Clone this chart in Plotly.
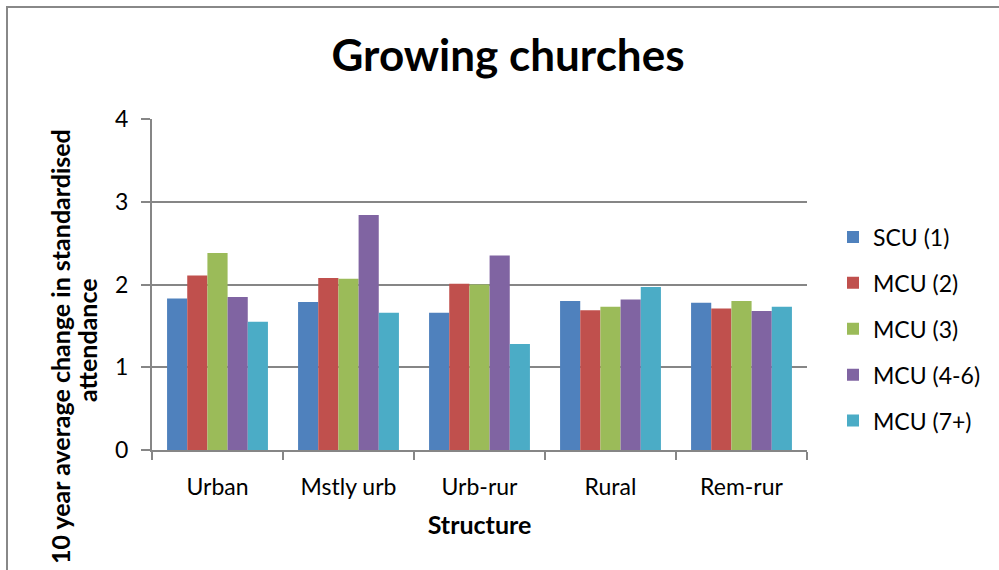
import plotly.graph_objects as go

# Categories (settlement structure) and series (church unit types)
categories = ["Urban", "Mstly urb", "Urb-rur", "Rural", "Rem-rur"]
series_names = ["SCU (1)", "MCU (2)", "MCU (3)", "MCU (4-6)", "MCU (7+)"]

scu_1 = [1.83, 1.79, 1.66, 1.80, 1.78]
mcu_2 = [2.11, 2.08, 2.01, 1.69, 1.71]
mcu_3 = [2.38, 2.07, 2.00, 1.73, 1.80]
mcu_4_6 = [1.85, 2.84, 2.35, 1.82, 1.68]
mcu_7p = [1.55, 1.66, 1.28, 1.97, 1.73]

series_values = [scu_1, mcu_2, mcu_3, mcu_4_6, mcu_7p]
colors = ["#4F81BD", "#C0504D", "#9BBB59", "#8064A2", "#4BACC6"]

FONT = "Lato, 'Open Sans', sans-serif"
GRID = "#868686"

fig = go.Figure()
for name, vals, col in zip(series_names, series_values, colors):
    fig.add_trace(go.Bar(
        x=categories, y=vals, name=name, legendgroup=name,
        marker=dict(color=col, line=dict(width=0)),
    ))

W, H = 999, 570
L, R, T, B = 152, 807, 119, 450
pw, ph = R - L, B - T

def px_x(p):
    return (p - L) / pw

def px_y(p):
    return (B - p) / ph

fig.update_layout(
    width=W, height=H,
    margin=dict(l=L, r=W - R, t=T, b=H - B),
    paper_bgcolor="white", plot_bgcolor="white",
    barmode="group", bargap=0.23, bargroupgap=0,
    font=dict(family=FONT, size=23, color="#000000"),
    title=dict(text="<b>Growing churches</b>", x=px_x(508), xref="paper",
               xanchor="center", y=1 - 56 / H, yanchor="middle",
               font=dict(size=44, family=FONT, color="#000000")),
    legend=dict(x=px_x(833), xanchor="left", y=px_y(329), yanchor="middle",
                font=dict(size=23), tracegroupgap=13, traceorder="grouped",
                bgcolor="rgba(0,0,0,0)"),
    xaxis=dict(
        showline=True, linecolor=GRID, linewidth=2,
        ticks="outside", ticklen=8, tickwidth=2, tickcolor=GRID,
        tickson="boundaries", ticklabelstandoff=15,
        title=dict(text="<b>Structure</b>", standoff=18, font=dict(size=25)),
        tickfont=dict(size=23),
    ),
    yaxis=dict(
        range=[0, 4], dtick=1, tick0=0,
        showgrid=True, gridcolor=GRID, gridwidth=2,
        showline=True, linecolor=GRID, linewidth=2,
        ticks="outside", ticklen=9, tickwidth=2, tickcolor=GRID,
        ticklabelstandoff=8, zeroline=False,
        tickfont=dict(size=23),
    ),
    shapes=[dict(
        type="rect", xref="paper", yref="paper",
        x0=px_x(7), x1=px_x(1010), y0=px_y(590), y1=px_y(7),
        line=dict(color="#888888", width=2), fillcolor="rgba(0,0,0,0)",
        layer="below",
    )],
    annotations=[
        dict(text="<b>10 year average change in standardised</b>",
             xref="paper", yref="paper", x=px_x(60), y=px_y(347),
             xanchor="center", yanchor="middle", textangle=-90,
             showarrow=False, font=dict(size=25, family=FONT)),
        dict(text="<b>attendance</b>",
             xref="paper", yref="paper", x=px_x(87), y=px_y(340),
             xanchor="center", yanchor="middle", textangle=-90,
             showarrow=False, font=dict(size=25, family=FONT)),
    ],
)

fig.write_html("out.html")
